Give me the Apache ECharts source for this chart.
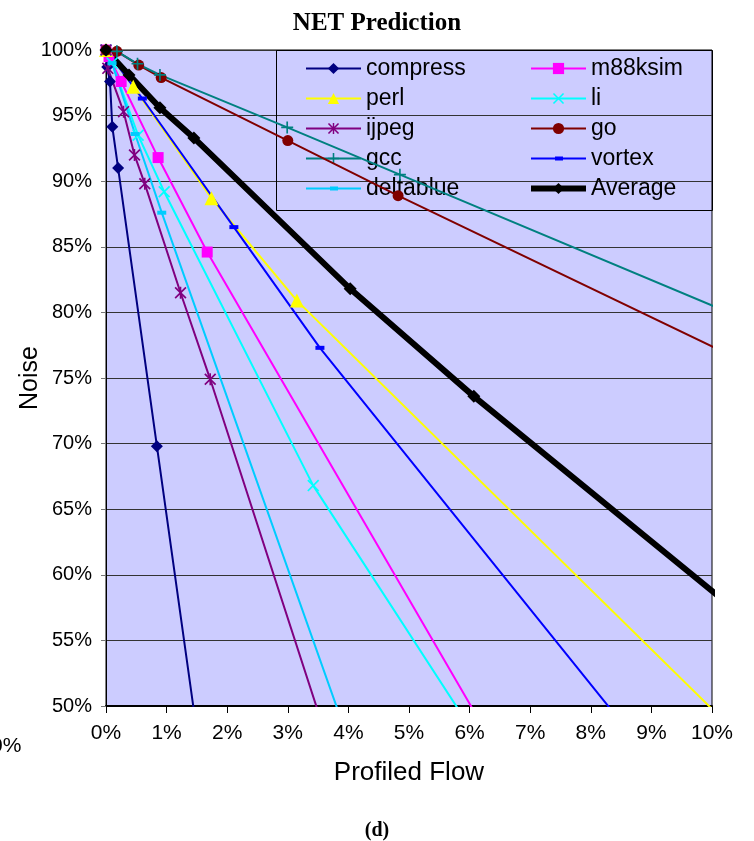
<!DOCTYPE html>
<html>
<head>
<meta charset="utf-8">
<title>NET Prediction</title>
<script src="https://cdn.jsdelivr.net/npm/echarts@6/dist/echarts.min.js"></script>
<style>
  html, body { margin: 0; padding: 0; background: #ffffff; }
  #chart { width: 754px; height: 841px; }
</style>
</head>
<body>
<div id="chart"></div>
<script>
// Tick labels
const xTickLabels = ['0%', '1%', '2%', '3%', '4%', '5%', '6%', '7%', '8%', '9%', '10%'];
const yTickLabels = ['50%', '55%', '60%', '65%', '70%', '75%', '80%', '85%', '90%', '95%', '100%'];

// Profiled flow (%) and noise (%) for each benchmark
const compressX  = [0, 0.02, 0.066, 0.104, 0.2, 0.84, 1.6];
const compressY  = [100, 98.7, 97.6, 94.15, 91.0, 69.8, 44.7];

const m88ksimX   = [0, 0.05, 0.25, 0.86, 1.67, 6.5];
const m88ksimY   = [100, 99.5, 97.6, 91.8, 84.6, 46.2];

const perlX      = [0, 0.45, 1.74, 3.15, 10.5];
const perlY      = [100, 97.2, 88.7, 80.9, 47.5];

const liX        = [0, 0.1, 0.53, 0.96, 3.42, 6.2];
const liY        = [100, 99.0, 93.5, 89.2, 66.8, 47.0];

const ijpegX     = [0, 0.03, 0.29, 0.47, 0.64, 1.23, 1.72, 3.8];
const ijpegY     = [100, 98.6, 95.3, 92.0, 89.8, 81.5, 74.9, 45.3];

const goX        = [0, 0.18, 0.54, 0.91, 3.0, 4.82, 11];
const goY        = [100, 99.9, 98.85, 97.9, 93.1, 88.9, 75.2];

const gccX       = [0, 0.18, 0.52, 0.89, 2.99, 4.85, 11];
const gccY       = [100, 99.9, 98.95, 98.1, 94.1, 90.5, 78.6];

const vortexX    = [0, 0.6, 2.11, 3.53, 9];
const vortexY    = [100, 96.3, 86.5, 77.3, 45.9];

const deltablueX = [0, 0.1, 0.48, 0.92, 4.2];
const deltablueY = [100, 99.0, 93.6, 87.6, 44.8];

const averageX   = [0, 0.38, 0.89, 1.45, 4.03, 6.07, 11];
const averageY   = [100, 98.1, 95.6, 93.3, 81.8, 73.6, 55.0];

const legendLeft  = ['compress', 'perl', 'ijpeg', 'gcc', 'deltablue'];
const legendRight = ['m88ksim', 'li', 'go', 'vortex', 'Average'];

// Marker shapes
const SYM_X = 'path://M0,1 L1,0 L5,4 L9,0 L10,1 L6,5 L10,9 L9,10 L5,6 L1,10 L0,9 L4,5 Z';
const SYM_STAR = 'path://M0,1 L1,0 L5,4 L9,0 L10,1 L6,5 L10,9 L9,10 L5,6 L1,10 L0,9 L4,5 Z M4.35,0 L5.65,0 L5.65,10 L4.35,10 Z';
const SYM_PLUS = 'path://M4.3,0 L5.7,0 L5.7,4.3 L10,4.3 L10,5.7 L5.7,5.7 L5.7,10 L4.3,10 L4.3,5.7 L0,5.7 L0,4.3 L4.3,4.3 Z';
const SYM_DASH = 'path://M0,0 L10,0 L10,4 L0,4 Z';
// Key glyph for the dash-marked series: 2px stroke with a short dash in the middle
const KEY_DASH = 'path://M0,0 L0.05,0 L0,0.05 Z M0,13.95 L0.05,14 L0,14 Z M0,6 L55,6 L55,8 L0,8 Z M24,5 L32,5 L32,9 L24,9 Z';

function pairs(xs, ys) {
  return xs.map((x, i) => [x, ys[i]]);
}

const seriesDefs = [
  { name: 'compress',  xs: compressX,  ys: compressY,  color: '#000080', symbol: 'diamond',  size: 12 },
  { name: 'm88ksim',   xs: m88ksimX,   ys: m88ksimY,   color: '#FF00FF', symbol: 'rect',     size: 11 },
  { name: 'perl',      xs: perlX,      ys: perlY,      color: '#FFFF00', symbol: 'triangle', size: 14 },
  { name: 'li',        xs: liX,        ys: liY,        color: '#00FFFF', symbol: SYM_X,      size: 12 },
  { name: 'ijpeg',     xs: ijpegX,     ys: ijpegY,     color: '#800080', symbol: SYM_STAR,   size: 12 },
  { name: 'go',        xs: goX,        ys: goY,        color: '#800000', symbol: 'circle',   size: 11 },
  { name: 'gcc',       xs: gccX,       ys: gccY,       color: '#008080', symbol: SYM_PLUS,   size: 12 },
  { name: 'vortex',    xs: vortexX,    ys: vortexY,    color: '#0000FF', symbol: SYM_DASH,   size: [9, 4] },
  { name: 'deltablue', xs: deltablueX, ys: deltablueY, color: '#00CCFF', symbol: SYM_DASH,   size: [9, 4] },
  { name: 'Average',   xs: averageX,   ys: averageY,   color: '#000000', symbol: 'diamond',  size: 13, width: 6 }
];

const FONT = '"Liberation Sans", Arial, sans-serif';

const chart = echarts.init(document.getElementById('chart'), null, { renderer: 'canvas' });

const legendCommon = {
  orient: 'vertical',
  top: 57,
  padding: 0,
  itemWidth: 55,
  itemHeight: 14,
  itemGap: 7,
  z: 1,
  textStyle: { fontFamily: FONT, fontSize: 23, color: '#000', lineHeight: 22 }
};

function keyItem(n) {
  if (n === 'Average') return { name: n, lineStyle: { width: 6 } };
  if (n === 'vortex' || n === 'deltablue') return { name: n, icon: KEY_DASH };
  return n;
}

chart.setOption({
  animation: false,
  backgroundColor: '#ffffff',
  title: {
    text: 'NET Prediction',
    left: 'center',
    top: 6,
    textStyle: { fontFamily: '"Liberation Serif", "Times New Roman", serif', fontSize: 25, fontWeight: 'bold', color: '#000' }
  },
  grid: {
    left: 106, right: 42, top: 50, bottom: 135,
    outerBoundsMode: 'none',
    containLabel: false,
    show: true,
    backgroundColor: '#CCCCFF',
    borderColor: '#000',
    borderWidth: 1
  },
  legend: [
    Object.assign({ left: 305, data: legendLeft.map(keyItem) }, legendCommon),
    Object.assign({ left: 528, data: legendRight.map(keyItem) }, legendCommon)
  ],
  xAxis: {
    type: 'value',
    min: 0, max: 10, interval: 1,
    name: 'Profiled Flow',
    nameLocation: 'middle',
    nameGap: 54,
    nameMoveOverlap: false,
    nameTextStyle: { fontFamily: FONT, fontSize: 26, color: '#000' },
    axisLine: { show: true, lineStyle: { color: '#000', width: 2 } },
    axisTick: { show: true, inside: false, length: 7, lineStyle: { color: '#000' } },
    axisLabel: {
      margin: 17,
      fontFamily: FONT, fontSize: 21, color: '#000',
      formatter: (v) => xTickLabels[Math.round(v)]
    },
    splitLine: { show: false }
  },
  yAxis: {
    type: 'value',
    min: 50, max: 100, interval: 5,
    name: 'Noise',
    nameLocation: 'middle',
    nameGap: 63,
    nameMoveOverlap: false,
    nameRotate: 90,
    nameTextStyle: { fontFamily: FONT, fontSize: 25, color: '#000' },
    axisLine: { show: true, lineStyle: { color: '#000', width: 1 } },
    axisTick: { show: true, inside: false, length: 5, lineStyle: { color: '#777' } },
    axisLabel: {
      margin: 14,
      fontFamily: FONT, fontSize: 20, color: '#000',
      formatter: (v) => yTickLabels[Math.round((v - 50) / 5)]
    },
    splitLine: { show: true, lineStyle: { color: '#333', width: 1 } }
  },
  graphic: [
    {
      type: 'rect',
      z: 1,
      shape: { x: 276.5, y: 50.5, width: 436, height: 160 },
      style: { fill: 'rgba(0,0,0,0)', stroke: '#000', lineWidth: 1 }
    },
    {
      type: 'text',
      left: 'center',
      top: 821,
      style: { text: '(d)', font: 'bold 20px "Liberation Serif", "Times New Roman", serif', fill: '#000' }
    },
    {
      type: 'text',
      x: -9,
      y: 736,
      style: { text: '0%', font: '21px ' + FONT, fill: '#000' }
    }
  ],
  series: seriesDefs.map((d) => ({
    type: 'line',
    name: d.name,
    data: pairs(d.xs, d.ys),
    z: 3,
    clip: true,
    symbol: d.symbol,
    symbolSize: d.size,
    showAllSymbol: true,
    lineStyle: { color: d.color, width: d.width || 2 },
    itemStyle: { color: d.color, borderWidth: 0 },
    emphasis: { disabled: true }
  }))
});
</script>
</body>
</html>
